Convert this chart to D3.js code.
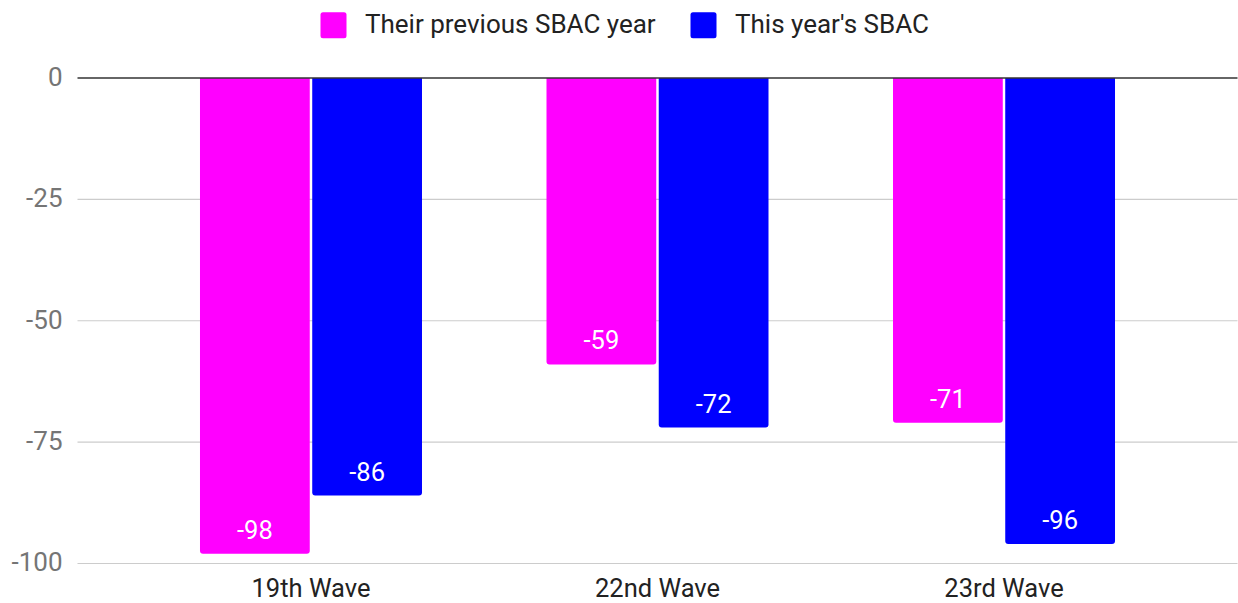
<!DOCTYPE html>
<html>
<head>
<meta charset="utf-8">
<script src="https://cdn.jsdelivr.net/npm/d3@7"></script>
<style>
  html, body { margin: 0; padding: 0; background: #fff; }
  svg { display: block; font-family: Roboto, "Noto Sans", sans-serif; }
</style>
</head>
<body>
<svg id="chart" width="1238" height="603"></svg>
<script>
// Chart data
const categories = ["19th Wave", "22nd Wave", "23rd Wave"];
const seriesNames = ["Their previous SBAC year", "This year's SBAC"];
const previousYear = [-98, -59, -71];
const thisYear = [-86, -72, -96];
const yTicks = [0, -25, -50, -75, -100];
const colors = ["#ff00ff", "#0000ff"];

const seriesValues = [previousYear, thisYear];

const svg = d3.select("#chart");
const plot = { left: 77.5, right: 1237.5, top: 78, bottom: 563.5 };

const x = d3.scaleBand()
  .domain(categories)
  .range([plot.left, plot.right])
  .paddingInner(0.3593)
  .paddingOuter(0.3535);

const xInner = d3.scaleBand()
  .domain(seriesNames)
  .range([0, x.bandwidth()])
  .paddingInner(0.022);

const y = d3.scaleLinear().domain([0, -100]).range([plot.top, plot.bottom]);

// Gridlines
svg.append("g")
  .selectAll("line")
  .data(yTicks.filter(d => d !== 0))
  .join("line")
  .attr("x1", plot.left).attr("x2", plot.right)
  .attr("y1", d => y(d)).attr("y2", d => y(d))
  .attr("stroke", "#cccccc").attr("stroke-width", 1.2);

// Y axis labels (plain hyphen for negatives)
const yAxis = d3.axisLeft(y).tickValues(yTicks).tickSize(0).tickPadding(15)
  .tickFormat(d => String(d));
const gy = svg.append("g").attr("transform", `translate(${plot.left},0)`).call(yAxis);
gy.select(".domain").remove();
gy.selectAll("text")
  .attr("fill", "#757575")
  .attr("font-size", 26)
  .attr("dy", "0.28em")
  .attr("font-family", "Roboto, sans-serif");

// Bars with rounded lower corners
function barPath(x0, w, y0, y1, r) {
  return `M${x0},${y0}H${x0 + w}V${y1 - r}Q${x0 + w},${y1} ${x0 + w - r},${y1}` +
         `H${x0 + r}Q${x0},${y1} ${x0},${y1 - r}Z`;
}

const rows = [];
categories.forEach((c, i) => {
  seriesNames.forEach((s, j) => {
    rows.push({ cat: c, series: s, value: seriesValues[j][i], color: colors[j] });
  });
});

const bars = svg.append("g");
bars.selectAll("path")
  .data(rows)
  .join("path")
  .attr("d", d => barPath(x(d.cat) + xInner(d.series), xInner.bandwidth(), y(0), y(d.value), 3))
  .attr("fill", d => d.color);

// Value labels inside the bar ends
bars.selectAll("text")
  .data(rows)
  .join("text")
  .attr("x", d => x(d.cat) + xInner(d.series) + xInner.bandwidth() / 2)
  .attr("y", d => y(d.value) - 15)
  .attr("text-anchor", "middle")
  .attr("fill", "#ffffff")
  .attr("font-family", "Roboto, sans-serif")
  .attr("font-size", 25.5)
  .text(d => d.value);

// Zero baseline
svg.append("line")
  .attr("x1", plot.left).attr("x2", plot.right)
  .attr("y1", y(0)).attr("y2", y(0))
  .attr("stroke", "#333333").attr("stroke-width", 1.5);

// Category axis labels
const xAxis = d3.axisBottom(x).tickSize(0).tickPadding(0);
const gx = svg.append("g").attr("transform", `translate(0,597)`).call(xAxis);
gx.select(".domain").remove();
gx.selectAll("text")
  .attr("fill", "#222222")
  .attr("font-size", 25.5)
  .attr("font-family", "Roboto, sans-serif")
  .attr("dy", null)
  .attr("y", 0);

// Legend
const legendItems = [
  { name: seriesNames[0], color: colors[0], x: 320.5 },
  { name: seriesNames[1], color: colors[1], x: 690.5 }
];
const lg = svg.append("g").selectAll("g").data(legendItems).join("g")
  .attr("transform", d => `translate(${d.x},12.3)`);
lg.append("rect")
  .attr("width", 26).attr("height", 26).attr("rx", 2.5)
  .attr("fill", d => d.color);
lg.append("text")
  .attr("x", 44.5).attr("y", 21)
  .attr("fill", "#222222")
  .attr("font-size", 26)
  .text(d => d.name);
</script>
</body>
</html>
